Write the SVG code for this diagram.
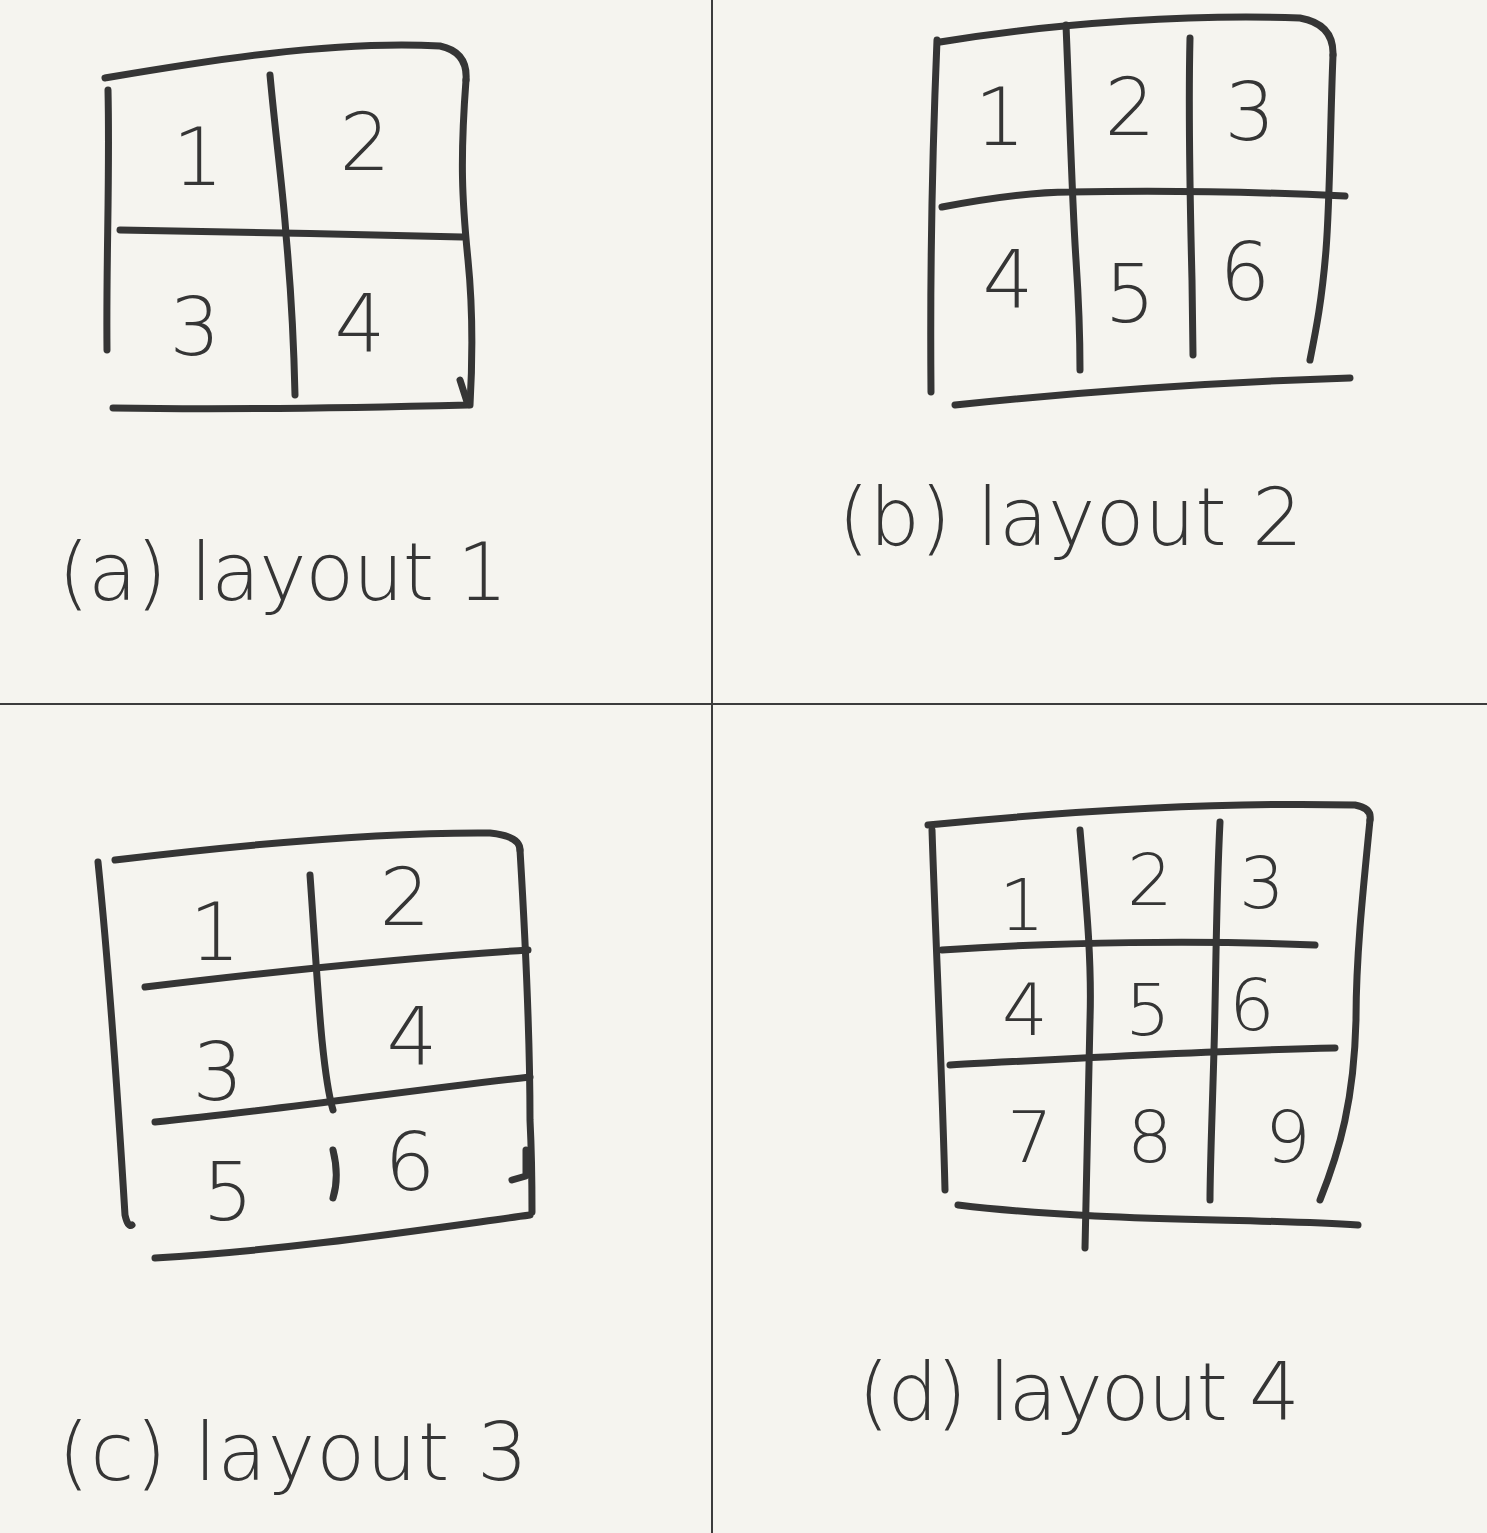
<svg xmlns="http://www.w3.org/2000/svg" width="1487" height="1533" viewBox="0 0 1487 1533">
<style>
.s{fill:none;stroke:#353535;stroke-width:7;stroke-linecap:round;stroke-linejoin:round}
.d{fill:none;stroke:#3c3c3c;stroke-width:2}
.n{font-family:"DejaVu Sans",sans-serif;fill:#353535;text-anchor:middle;font-weight:300}
.l{font-family:"DejaVu Sans",sans-serif;fill:#353535;font-size:80px;font-weight:300}
</style>
<rect width="1487" height="1533" fill="#f5f4ef"/>
<g id="dividers">
<line class="d" x1="712" y1="0" x2="712" y2="1533"/>
<line class="d" x1="0" y1="704" x2="1487" y2="704"/>
</g>
<g id="panel-a">
<path class="s" d="M105,78 C200,62 330,40 440,46 Q468,52 466,80"/>
<path class="s" d="M466,80 C460,160 462,200 468,260 C474,320 472,370 470,405"/>
<path class="s" d="M108,90 C110,180 106,260 107,350"/>
<path class="s" d="M113,408 C230,410 350,408 468,405 L460,380"/>
<path class="s" d="M120,230 C230,232 350,234 462,237"/>
<path class="s" d="M270,75 C276,140 284,200 286,235 C292,300 294,350 295,395"/>
<text class="n" x="198" y="185" font-size="80">1</text>
<text class="n" x="365" y="170" font-size="80">2</text>
<text class="n" x="195" y="355" font-size="80">3</text>
<text class="n" x="360" y="352" font-size="80">4</text>
<text class="l" x="58" y="600" textLength="450" lengthAdjust="spacing">(a) layout 1</text>
</g>
<g id="panel-b">
<path class="s" d="M940,42 C1060,22 1200,14 1300,18 Q1334,24 1333,55"/>
<path class="s" d="M1333,55 C1330,130 1330,200 1326,250 C1322,300 1316,330 1310,360"/>
<path class="s" d="M937,40 C932,160 930,280 931,392"/>
<path class="s" d="M942,207 C990,198 1040,192 1070,192 C1160,190 1260,192 1345,196"/>
<path class="s" d="M955,405 C1080,392 1220,382 1350,378"/>
<path class="s" d="M1066,25 C1070,120 1072,200 1076,260 C1080,320 1080,350 1080,370"/>
<path class="s" d="M1190,38 C1188,120 1190,200 1192,280 L1193,355"/>
<text class="n" x="1000" y="145" font-size="80">1</text>
<text class="n" x="1130" y="135" font-size="80">2</text>
<text class="n" x="1250" y="140" font-size="80">3</text>
<text class="n" x="1008" y="308" font-size="80">4</text>
<text class="n" x="1130" y="322" font-size="80">5</text>
<text class="n" x="1245" y="300" font-size="80">6</text>
<text class="l" x="838" y="545" textLength="465" lengthAdjust="spacing">(b) layout 2</text>
</g>
<g id="panel-c">
<path class="s" d="M115,860 C240,845 380,832 490,833 Q520,836 520,850"/>
<path class="s" d="M520,850 C526,950 530,1050 530,1120 C532,1160 532,1190 532,1212"/>
<path class="s" d="M98,862 C110,980 118,1100 125,1215 Q128,1228 132,1225"/>
<path class="s" d="M155,1258 C290,1250 420,1230 530,1215"/>
<path class="s" d="M145,987 C270,972 400,958 528,950"/>
<path class="s" d="M155,1122 C280,1110 410,1090 530,1077"/>
<path class="s" d="M310,875 C314,930 318,1000 322,1040 C326,1080 330,1100 333,1110"/>
<path class="s" d="M333,1150 C338,1170 337,1185 333,1198"/>
<path class="s" d="M512,1180 L526,1176 L526,1150"/>
<text class="n" x="215" y="960" font-size="80">1</text>
<text class="n" x="405" y="925" font-size="80">2</text>
<text class="n" x="218" y="1100" font-size="80">3</text>
<text class="n" x="412" y="1065" font-size="80">4</text>
<text class="n" x="228" y="1220" font-size="80">5</text>
<text class="n" x="410" y="1190" font-size="80">6</text>
<text class="l" x="58" y="1480" textLength="470" lengthAdjust="spacing">(c) layout 3</text>
</g>
<g id="panel-d">
<path class="s" d="M928,825 C1060,812 1220,802 1355,805 Q1372,808 1370,820"/>
<path class="s" d="M1370,820 C1362,900 1356,960 1356,1020 C1354,1100 1340,1150 1320,1200"/>
<path class="s" d="M932,830 C936,950 942,1070 945,1190"/>
<path class="s" d="M942,950 C1060,942 1200,940 1315,945"/>
<path class="s" d="M950,1065 C1080,1058 1220,1050 1335,1048"/>
<path class="s" d="M958,1205 C1100,1222 1250,1218 1358,1225"/>
<path class="s" d="M1080,830 C1086,900 1092,960 1090,1020 C1088,1100 1086,1180 1085,1248"/>
<path class="s" d="M1220,822 C1216,900 1216,980 1214,1050 C1212,1120 1210,1170 1210,1200"/>
<text class="n" x="1022" y="930" font-size="72">1</text>
<text class="n" x="1150" y="905" font-size="72">2</text>
<text class="n" x="1262" y="908" font-size="72">3</text>
<text class="n" x="1025" y="1035" font-size="72">4</text>
<text class="n" x="1148" y="1035" font-size="72">5</text>
<text class="n" x="1252" y="1030" font-size="72">6</text>
<text class="n" x="1030" y="1162" font-size="72">7</text>
<text class="n" x="1150" y="1162" font-size="72">8</text>
<text class="n" x="1288" y="1162" font-size="72">9</text>
<text class="l" x="858" y="1420" textLength="442" lengthAdjust="spacing">(d) layout 4</text>
</g>
</svg>
